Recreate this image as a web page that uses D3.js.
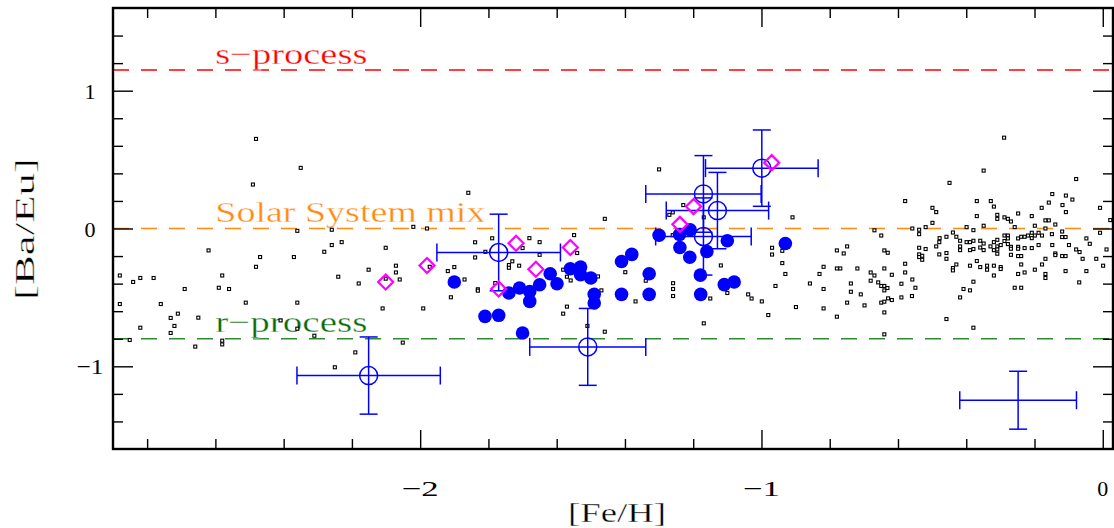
<!DOCTYPE html>
<html>
<head>
<meta charset="utf-8">
<script src="https://cdn.jsdelivr.net/npm/d3@7"></script>
<style>
  body { margin: 0; background: #fff; }
  svg { display: block; }
  text { font-family: "Liberation Serif", "Times New Roman", serif; }
  text.thin { stroke: #fff; stroke-width: 0.35px; }
</style>
</head>
<body>
<svg id="chart"></svg>
<script>
// field stars [Fe/H, Ba/Eu] (small open squares)
let fieldStars = [
  [-2.880,-0.341],[-2.880,-0.548],[-2.851,-0.809],[-2.841,-0.388],[-2.820,-0.359],[-2.820,-0.720],
  [-2.781,-0.359],[-2.760,-0.548],[-2.731,-0.649],[-2.731,-0.758],[-2.720,-0.707],[-2.710,-0.618],
  [-2.690,-0.439],[-2.659,-0.857],[-2.650,-0.647],[-2.620,-0.159],[-2.590,-0.430],[-2.580,-0.341],
  [-2.580,-0.814],[-2.580,-0.841],[-2.560,-0.439],[-2.511,-0.538],[-2.490,0.319],[-2.481,0.650],
  [-2.481,-0.278],[-2.469,-0.207],[-2.409,-0.667],[-2.370,-0.207],[-2.360,-0.017],[-2.360,-0.538],
  [-2.360,-0.727],[-2.350,0.440],[-2.310,-0.778],[-2.281,-0.169],[-2.259,-0.009],[-2.259,-0.120],
  [-2.250,-1.007],[-2.240,-0.350],[-2.230,-0.099],[-2.190,-0.899],[-2.180,-0.399],[-2.151,-0.299],
  [-2.110,-0.580],[-2.101,-0.140],[-2.101,-0.364],[-2.071,-0.270],[-2.071,-0.319],[-2.060,-0.370],
  [-2.051,-0.828],[-2.020,0.012],[-1.991,-0.580],[-1.980,0.000],[-1.972,-0.278],[-1.919,-0.309],
  [-1.910,-0.499],[-1.900,-0.280],[-1.870,-0.370],[-1.859,0.259],[-1.839,-0.100],[-1.839,-0.210],
  [-1.831,-0.441],[-1.831,-0.451],[-1.809,-0.169],[-1.789,-0.071],[-1.780,-0.396],[-1.740,-0.265],
  [-1.740,-0.285],[-1.730,-0.238],[-1.710,-0.270],[-1.700,-0.142],[-1.680,-0.070],[-1.650,-0.099],
  [-1.650,-0.191],[-1.581,-0.299],[-1.581,-0.618],[-1.570,-0.350],[-1.570,-0.567],[-1.559,-0.377],
  [-1.549,-0.048],[-1.540,-0.178],[-1.510,-0.707],[-1.479,-0.348],[-1.469,-0.449],[-1.459,0.070],
  [-1.459,-0.749],[-1.399,-0.317],[-1.369,-0.529],[-1.339,-0.379],[-1.300,0.429],[-1.270,0.099],
  [-1.260,0.117],[-1.260,-0.048],[-1.259,-0.397],[-1.259,-0.439],[-1.259,-0.490],[-1.229,0.170],
  [-1.169,0.081],[-1.169,-0.688],[-1.150,-0.508],[-1.119,-0.268],[-1.100,-0.468],[-1.039,-0.478],
  [-1.029,-0.508],[-0.999,-0.529],[-0.980,-0.628],[-0.969,-0.140],[-0.969,-0.189],[-0.959,-0.417],
  [-0.939,-0.162],[-0.939,-0.251],[-0.930,-0.330],[-0.909,0.081],[-0.899,-0.570],[-0.858,-0.399],
  [-0.830,-0.330],[-0.818,-0.278],[-0.818,-0.439],[-0.818,-0.580],[-0.779,-0.159],[-0.779,-0.290],
  [-0.779,-0.640],[-0.769,-0.290],[-0.759,-0.181],[-0.749,-0.130],[-0.749,-0.538],[-0.738,-0.399],
  [-0.738,-0.459],[-0.719,-0.290],[-0.709,-0.478],[-0.698,-0.558],[-0.680,-0.319],[-0.680,-0.379],
  [-0.669,-0.013],[-0.669,-0.341],[-0.658,-0.391],[-0.649,-0.051],[-0.649,-0.417],[-0.649,-0.538],
  [-0.640,-0.417],[-0.640,-0.449],[-0.631,-0.432],[-0.640,-0.531],[-0.640,-0.609],[-0.640,-0.768],
  [-0.640,-0.159],[-0.630,-0.176],[-0.640,-0.290],[-0.629,-0.507],[-0.618,-0.336],[-0.618,-0.519],
  [-0.590,-0.401],[-0.590,-0.500],[-0.579,0.199],[-0.579,-0.256],[-0.579,-0.319],[-0.558,0.000],
  [-0.558,-0.370],[-0.559,-0.490],[-0.549,-0.430],[-0.538,-0.009],[-0.538,-0.041],[-0.538,-0.140],
  [-0.538,-0.188],[-0.538,-0.207],[-0.529,-0.198],[-0.529,-0.227],[-0.519,0.010],[-0.519,-0.149],
  [-0.499,0.150],[-0.499,0.041],[-0.488,0.119],[-0.488,-0.130],[-0.478,-0.070],[-0.479,-0.099],
  [-0.479,-0.188],[-0.458,-0.060],[-0.458,-0.178],[-0.458,-0.220],[-0.458,-0.657],[-0.449,0.331],
  [-0.439,-0.029],[-0.439,-0.287],[-0.439,-0.304],[-0.429,-0.060],[-0.429,-0.261],[-0.418,-0.089],
  [-0.418,-0.130],[-0.418,-0.157],[-0.418,-0.500],[-0.408,-0.439],[-0.399,0.010],[-0.399,-0.099],
  [-0.389,-0.099],[-0.389,-0.157],[-0.389,-0.270],[-0.389,-0.449],[-0.379,-0.012],[-0.379,-0.089],
  [-0.379,-0.149],[-0.379,-0.386],[-0.379,-0.720],[-0.369,0.199],[-0.369,0.090],[-0.369,-0.236],
  [-0.359,-0.089],[-0.359,-0.138],[-0.359,-0.280],[-0.349,0.420],[-0.349,0.020],[-0.349,-0.109],
  [-0.349,-0.157],[-0.339,-0.270],[-0.339,-0.299],[-0.328,0.199],[-0.329,-0.130],[-0.319,0.159],
  [-0.319,-0.099],[-0.319,-0.157],[-0.319,-0.270],[-0.319,-0.341],[-0.309,0.099],[-0.309,0.070],
  [-0.309,-0.082],[-0.309,-0.130],[-0.309,-0.152],[-0.309,-0.183],[-0.299,-0.120],[-0.299,-0.280],
  [-0.299,-0.294],[-0.289,0.659],[-0.288,0.081],[-0.288,-0.051],[-0.288,-0.091],[-0.278,0.070],
  [-0.278,-0.051],[-0.278,-0.072],[-0.278,-0.113],[-0.269,0.051],[-0.269,-0.133],[-0.269,-0.147],
  [-0.269,-0.191],[-0.258,0.010],[-0.258,-0.430],[-0.248,0.109],[-0.248,-0.072],[-0.248,-0.133],
  [-0.248,-0.147],[-0.248,-0.200],[-0.248,-0.330],[-0.239,-0.430],[-0.239,-0.060],[-0.239,-0.200],
  [-0.239,-0.261],[-0.229,-0.060],[-0.229,-0.142],[-0.229,-0.319],[-0.219,-0.051],[-0.208,0.090],
  [-0.208,-0.031],[-0.208,-0.070],[-0.208,-0.142],[-0.199,0.020],[-0.199,-0.051],[-0.199,-0.299],
  [-0.188,-0.031],[-0.188,-0.120],[-0.179,0.150],[-0.178,-0.051],[-0.178,-0.261],[-0.168,0.059],
  [-0.168,0.000],[-0.168,-0.220],[-0.168,-0.330],[-0.168,-0.359],[-0.158,0.059],[-0.158,0.188],
  [-0.148,0.250],[-0.149,-0.041],[-0.148,-0.120],[-0.139,0.029],[-0.139,-0.181],[-0.139,-0.193],
  [-0.118,0.170],[-0.119,-0.022],[-0.119,-0.062],[-0.119,-0.200],[-0.108,0.239],[-0.108,0.119],
  [-0.109,-0.062],[-0.109,-0.200],[-0.109,-0.309],[-0.099,-0.120],[-0.089,0.210],[-0.078,0.359],
  [-0.078,-0.152],[-0.068,-0.171],[-0.069,-0.391],[-0.059,-0.220],[-0.048,-0.072],[-0.048,-0.309],
  [-0.038,-0.111],[-0.019,-0.220],[-0.008,0.150],[-0.008,-0.031],[0.001,-0.270],[0.011,-0.152],
  [0.022,0.061]
]

// filled blue circles
let blueStars = [
  [-1.900,-0.388],[-1.810,-0.638],[-1.770,-0.630],[-1.700,-0.758],[-1.740,-0.468],[-1.709,-0.432],
  [-1.679,-0.457],[-1.679,-0.529],[-1.650,-0.408],[-1.619,-0.328],[-1.599,-0.401],[-1.560,-0.292],
  [-1.530,-0.280],[-1.530,-0.336],[-1.500,-0.359],[-1.490,-0.477],[-1.490,-0.541],[-1.410,-0.239],
  [-1.380,-0.188],[-1.410,-0.478],[-1.329,-0.328],[-1.329,-0.478],[-1.300,-0.049],[-1.240,-0.044],
  [-1.209,-0.009],[-1.239,-0.138],[-1.210,-0.209],[-1.160,-0.167],[-1.179,-0.338],[-1.178,-0.478],
  [-1.100,-0.089],[-1.109,-0.407],[-1.080,-0.388],[-0.930,-0.109]
]

// open circles with error bars
let openFeH   = [-2.151, -1.770, -1.509, -1.170, -1.129, -1.170, -0.999]
let openBaEu  = [-1.067, -0.174, -0.859,  0.251,  0.130, -0.058,  0.438]
let openErrX  = [ 0.21,   0.181,  0.17,   0.169,  0.15,   0.14,   0.165]
let openErrY  = [ 0.28,   0.278,  0.279,  0.278,  0.277,  0.28,   0.277]

// typical error bar (no symbol)
let typErr = {feh: -0.248, baeu: -1.246, ex: 0.171, ey: 0.21}

// magenta diamonds
let diamondStars = [
  [-2.101,-0.388],[-1.980,-0.268],[-1.770,-0.439],[-1.719,-0.107],[-1.661,-0.296],
  [-1.560,-0.138],[-1.239,0.030],[-1.199,0.159],[-0.970,0.478]
]

// reference ratios
let refNames  = ["s\u2212process", "Solar System mix", "r\u2212process"]
let refValues = [1.15, 0, -0.8]
let refColors = ["#ff0000", "#ff8a10", "#2f8a2f"]
let refTextColors = ["#ff0000", "#ff8a10", "#0a6a0a"]
let refLabelLen = [152, 270, 152]

let xTickLabels = [-2, -1, 0]
let yTickLabels = [-1, 0, 1]

let W = 1114, H = 528
let svg = d3.select("#chart").attr("width", W).attr("height", H)

let xScale = d3.scaleLinear().domain([-2.9, 0.03]).range([113, 1113])
let yScale = d3.scaleLinear().domain([-1.6, 1.6]).range([449, 8])

let x0 = xScale.range()[0], x1 = xScale.range()[1]
let y0 = yScale.range()[1], y1 = yScale.range()[0]

// dashed reference lines + their labels
refValues.forEach(function (v, i) {
  svg.append("line")
    .attr("x1", x0).attr("x2", x1)
    .attr("y1", yScale(v)).attr("y2", yScale(v))
    .attr("stroke", refColors[i])
    .attr("stroke-width", 1.6)
    .attr("stroke-dasharray", "16,12")
  svg.append("text")
    .attr("class", "thin")
    .attr("x", xScale(-2.6))
    .attr("y", yScale(v) - 6.5)
    .attr("font-size", 30)
    .attr("fill", refTextColors[i])
    .attr("textLength", refLabelLen[i])
    .attr("lengthAdjust", "spacingAndGlyphs")
    .text(refNames[i])
})

// field stars
svg.append("g").selectAll("rect")
  .data(fieldStars)
  .enter()
  .append("rect")
  .attr("x", d => xScale(d[0]) - 1.5)
  .attr("y", d => yScale(d[1]) - 1.5)
  .attr("width", 3).attr("height", 3)
  .attr("fill", "#fff")
  .attr("stroke", "#000")
  .attr("stroke-width", 1.1)

// blue filled
svg.append("g").selectAll("circle")
  .data(blueStars)
  .enter()
  .append("circle")
  .attr("cx", d => xScale(d[0]))
  .attr("cy", d => yScale(d[1]))
  .attr("r", 6.8)
  .attr("fill", "#0000ff")

// error bars
let errData = openFeH.map((f, i) => ({feh: f, baeu: openBaEu[i], ex: openErrX[i], ey: openErrY[i], sym: true}))
errData.push(Object.assign({sym: false}, typErr))

let cap = 9
let eb = svg.append("g")
  .attr("stroke", "#0000ff")
  .attr("stroke-width", 1.5)
  .attr("fill", "none")

errData.forEach(function (d) {
  let cx = xScale(d.feh), cy = yScale(d.baeu)
  let xl = xScale(d.feh - d.ex), xr = xScale(d.feh + d.ex)
  let yt = yScale(d.baeu + d.ey), yb = yScale(d.baeu - d.ey)
  eb.append("line").attr("x1", xl).attr("x2", xr).attr("y1", cy).attr("y2", cy)
  eb.append("line").attr("x1", cx).attr("x2", cx).attr("y1", yt).attr("y2", yb)
  eb.append("line").attr("x1", xl).attr("x2", xl).attr("y1", cy - cap).attr("y2", cy + cap)
  eb.append("line").attr("x1", xr).attr("x2", xr).attr("y1", cy - cap).attr("y2", cy + cap)
  eb.append("line").attr("x1", cx - cap).attr("x2", cx + cap).attr("y1", yt).attr("y2", yt)
  eb.append("line").attr("x1", cx - cap).attr("x2", cx + cap).attr("y1", yb).attr("y2", yb)
  if (d.sym) {
    eb.append("circle").attr("cx", cx).attr("cy", cy).attr("r", 9)
  }
})

// magenta diamonds
let dd = 7.5
svg.append("g").selectAll("path")
  .data(diamondStars)
  .enter()
  .append("path")
  .attr("d", function (d) {
    let cx = xScale(d[0]), cy = yScale(d[1])
    return "M" + cx + "," + (cy - dd) + "L" + (cx + dd) + "," + cy +
      "L" + cx + "," + (cy + dd) + "L" + (cx - dd) + "," + cy + "Z"
  })
  .attr("fill", "none")
  .attr("stroke", "#ff00ff")
  .attr("stroke-width", 2.2)

// ticks on all four sides, pointing inward
let xMajor = d3.range(-2, 0.5, 1)
let xMinor = d3.range(-28, 1, 2).map(v => v / 10).filter(v => xMajor.indexOf(v) < 0)
let yMajor = [-1, 0, 1]
let yMinor = d3.range(-14, 15, 2).map(v => v / 10).filter(v => yMajor.indexOf(v) < 0)

function styleAxis(g) {
  g.select(".domain").remove()
  g.selectAll("line").attr("stroke", "#000").attr("stroke-width", 1.4)
  g.selectAll("text").remove()
}

svg.append("g").attr("transform", "translate(0," + y1 + ")")
  .call(d3.axisBottom(xScale).tickValues(xMajor).tickSize(-19)).call(styleAxis)
svg.append("g").attr("transform", "translate(0," + y1 + ")")
  .call(d3.axisBottom(xScale).tickValues(xMinor).tickSize(-10)).call(styleAxis)
svg.append("g").attr("transform", "translate(0," + y0 + ")")
  .call(d3.axisTop(xScale).tickValues(xMajor).tickSize(-19)).call(styleAxis)
svg.append("g").attr("transform", "translate(0," + y0 + ")")
  .call(d3.axisTop(xScale).tickValues(xMinor).tickSize(-10)).call(styleAxis)
svg.append("g").attr("transform", "translate(" + x0 + ",0)")
  .call(d3.axisLeft(yScale).tickValues(yMajor).tickSize(-20)).call(styleAxis)
svg.append("g").attr("transform", "translate(" + x0 + ",0)")
  .call(d3.axisLeft(yScale).tickValues(yMinor).tickSize(-10)).call(styleAxis)
svg.append("g").attr("transform", "translate(" + x1 + ",0)")
  .call(d3.axisRight(yScale).tickValues(yMajor).tickSize(-20)).call(styleAxis)
svg.append("g").attr("transform", "translate(" + x1 + ",0)")
  .call(d3.axisRight(yScale).tickValues(yMinor).tickSize(-10)).call(styleAxis)

// frame
svg.append("rect")
  .attr("x", x0).attr("y", y0)
  .attr("width", x1 - x0).attr("height", y1 - y0)
  .attr("fill", "none")
  .attr("stroke", "#000")
  .attr("stroke-width", 2.4)

// tick labels
function fmt(v) { return v < 0 ? "\u2212" + Math.abs(v) : String(v) }

svg.selectAll("text.xtick")
  .data(xTickLabels)
  .enter()
  .append("text")
  .attr("class", "xtick")
  .attr("x", d => xScale(d))
  .attr("y", 496)
  .attr("text-anchor", "middle")
  .attr("font-size", 22)
  .attr("textLength", d => d < 0 ? 37 : null)
  .attr("lengthAdjust", "spacingAndGlyphs")
  .text(fmt)

svg.selectAll("text.ytick")
  .data(yTickLabels)
  .enter()
  .append("text")
  .attr("class", "ytick")
  .attr("x", 90)
  .attr("y", d => yScale(d) + 8)
  .attr("text-anchor", "middle")
  .attr("font-size", 22)
  .attr("textLength", d => d < 0 ? 27 : null)
  .attr("lengthAdjust", "spacingAndGlyphs")
  .text(fmt)

// axis titles
svg.append("text")
  .attr("class", "thin")
  .attr("x", 617).attr("y", 522)
  .attr("text-anchor", "middle")
  .attr("font-size", 28)
  .attr("textLength", 98)
  .attr("lengthAdjust", "spacingAndGlyphs")
  .text("[Fe/H]")

svg.append("text")
  .attr("class", "thin")
  .attr("transform", "translate(34,229) rotate(-90)")
  .attr("text-anchor", "middle")
  .attr("font-size", 27)
  .attr("textLength", 142)
  .attr("lengthAdjust", "spacingAndGlyphs")
  .text("[Ba/Eu]")
</script>
</body>
</html>
